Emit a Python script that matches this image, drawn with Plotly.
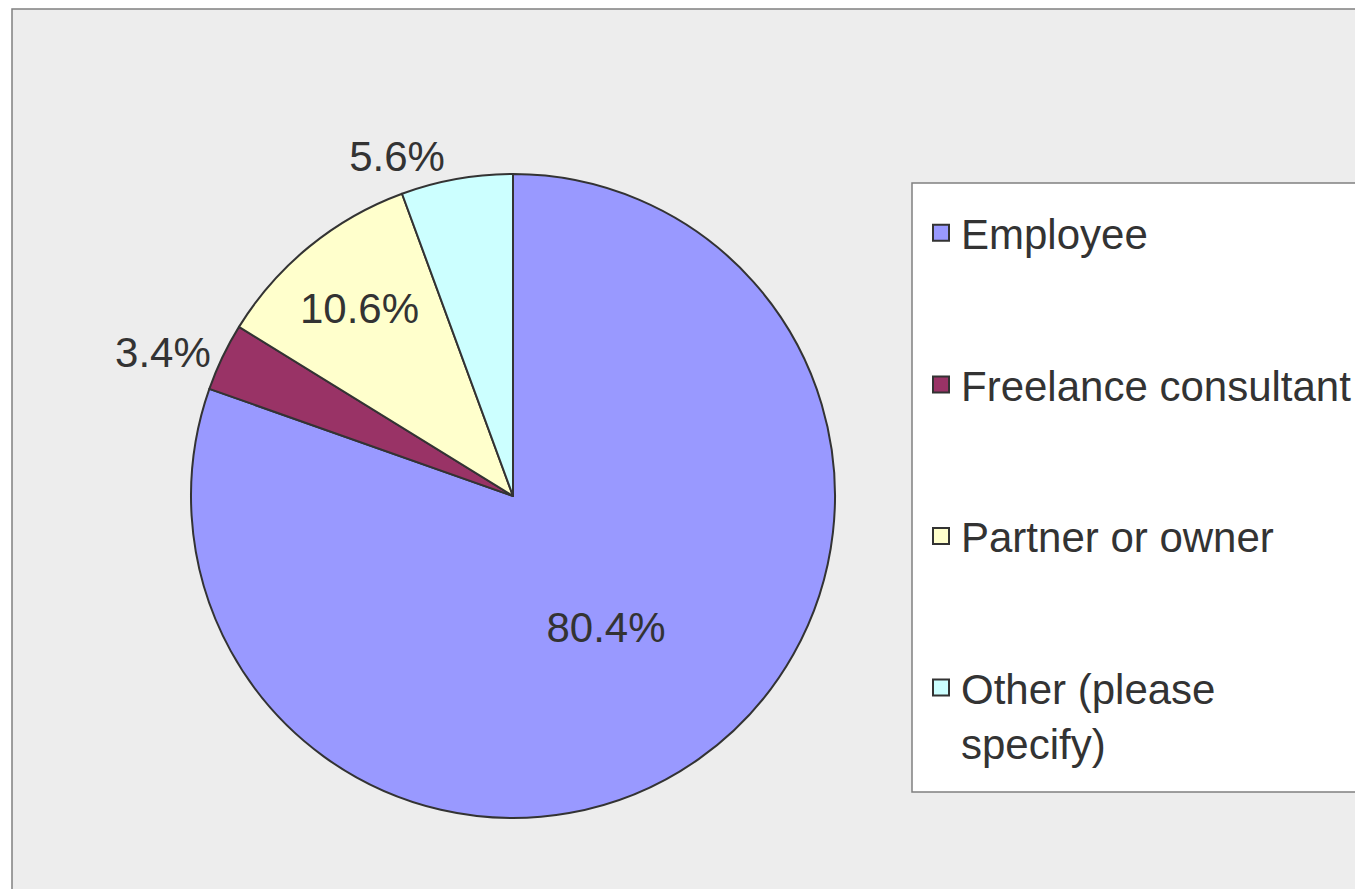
import plotly.graph_objects as go

categories = ["Employee", "Freelance consultant", "Partner or owner", "Other (please specify)"]
legend_labels = ["Employee", "Freelance consultant", "Partner or owner", "Other (please<br>specify)"]
values = [80.4, 3.4, 10.6, 5.6]
colors = ["#9999FF", "#993366", "#FFFFCC", "#CCFFFF"]
text_positions = ["inside", "outside", "inside", "outside"]

W, H = 1363, 889
# page body adds an 8px offset; positions below are in figure pixels
cx, cy, r = 505, 488, 322

fig = go.Figure()

# legend entries (dummy traces so that item spacing can be controlled)
for lab, col in zip(legend_labels, colors):
    fig.add_trace(go.Scatter(
        x=[None], y=[None], mode="markers", name=lab, legendgroup=lab,
        marker=dict(symbol="square", size=16, color=col, line=dict(color="#333333", width=2)),
        hoverinfo="skip", showlegend=True,
    ))

fig.add_trace(go.Pie(
    labels=categories, values=values, sort=False, direction="clockwise", rotation=0,
    marker=dict(colors=colors, line=dict(color="#333333", width=2)),
    texttemplate="%{value:.1f}%", textposition=text_positions,
    insidetextorientation="horizontal",
    textfont=dict(family="Liberation Sans, Arial, sans-serif", size=42, color="#333333"),
    showlegend=False,
    domain=dict(x=[(cx - r) / W, (cx + r) / W], y=[(H - cy - r) / H, (H - cy + r) / H]),
))

# chart area background
fig.add_shape(type="rect", xref="paper", yref="paper",
              x0=4 / W, x1=1.05, y0=-0.05, y1=1 - 1 / H,
              fillcolor="#EDEDED", line=dict(color="#808080", width=1.5), layer="below")
# legend box
fig.add_shape(type="rect", xref="paper", yref="paper",
              x0=904 / W, x1=1.05, y0=1 - 784 / H, y1=1 - 175 / H,
              fillcolor="white", line=dict(color="#808080", width=1.5), layer="below")

fig.update_layout(
    width=W, height=H,
    margin=dict(l=0, r=0, t=0, b=0),
    paper_bgcolor="white", plot_bgcolor="rgba(0,0,0,0)",
    xaxis=dict(visible=False), yaxis=dict(visible=False),
    font=dict(family="Liberation Sans, Arial, sans-serif", color="#333333"),
    legend=dict(
        x=913 / W, y=1 - 191 / H, xanchor="left", yanchor="top",
        bgcolor="rgba(0,0,0,0)", borderwidth=0,
        font=dict(size=42, color="#333333"),
        tracegroupgap=94, valign="top", itemclick=False, itemdoubleclick=False,
    ),
)

fig.write_html("out.html")
